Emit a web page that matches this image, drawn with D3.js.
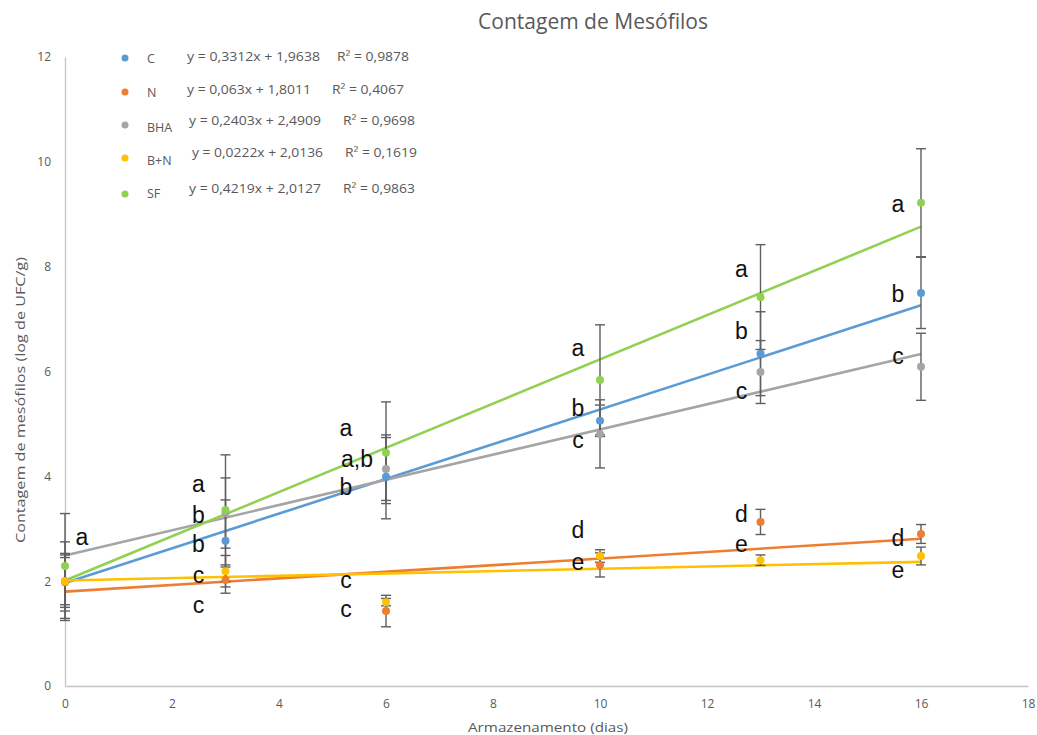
<!DOCTYPE html>
<html><head><meta charset="utf-8">
<script src="https://cdn.jsdelivr.net/npm/d3@7"></script>
<style>body{margin:0;background:#fff;}svg{display:block;}</style>
</head><body><svg id="c" width="1037" height="735"></svg>
<script>
const days = [0, 3, 6, 10, 13, 16];
const seriesNames = ["C", "N", "BHA", "B+N", "SF"];
const colors = ["#5B9BD5", "#ED7D31", "#A5A5A5", "#FFC000", "#92D050"];
const valC   = [2.00, 2.77, 3.99, 5.06, 6.34, 7.50];
const valN   = [1.98, 2.02, 1.43, 2.31, 3.13, 2.90];
const valBHA = [2.00, 3.30, 4.14, 4.81, 5.99, 6.09];
const valBN  = [2.00, 2.19, 1.60, 2.48, 2.40, 2.48];
const valSF  = [2.29, 3.36, 4.45, 5.84, 7.42, 9.22];
const errC   = [0.75, 0.78, 0.80, 0.30, 0.80, 0.68];
const errN   = [0.55, 0.25, 0.30, 0.23, 0.24, 0.18];
const errBHA = [0.50, 0.67, 0.60, 0.65, 0.60, 0.64];
const errBN  = [0.45, 0.30, 0.07, 0.12, 0.10, 0.17];
const errSF  = [1.00, 1.05, 0.97, 1.05, 1.00, 1.03];
const slopes = [0.3312, 0.063, 0.2403, 0.0222, 0.4219];
const intercepts = [1.9638, 1.8011, 2.4909, 2.0136, 2.0127];
const equations = ["y = 0,3312x + 1,9638", "y = 0,063x + 1,8011", "y = 0,2403x + 2,4909", "y = 0,0222x + 2,0136", "y = 0,4219x + 2,0127"];
const r2Labels = ["R² = 0,9878", "R² = 0,4067", "R² = 0,9698", "R² = 0,1619", "R² = 0,9863"];
const xTicks = [0, 2, 4, 6, 8, 10, 12, 14, 16, 18];
const yTicks = [0, 2, 4, 6, 8, 10, 12];
// significance letters: [day, y value, text]
const letters = [
  [0, 2.82, "a"],
  [3, 3.83, "a"], [3, 3.24, "b"], [3, 2.67, "b"], [3, 2.08, "c"], [3, 1.51, "c"],
  [6, 4.90, "a"], [6, 4.31, "a,b"], [6, 3.76, "b"], [6, 2.00, "c"], [6, 1.43, "c"],
  [10, 6.41, "a"], [10, 5.27, "b"], [10, 4.67, "c"], [10, 2.94, "d"], [10, 2.33, "e"],
  [13, 7.92, "a"], [13, 6.75, "b"], [13, 5.59, "c"], [13, 3.26, "d"], [13, 2.67, "e"],
  [16, 9.16, "a"], [16, 7.44, "b"], [16, 6.26, "c"], [16, 2.79, "d"], [16, 2.19, "e"]
];

const values = [valC, valN, valBHA, valBN, valSF];
const errs = [errC, errN, errBHA, errBN, errSF];

const svg = d3.select("#c");
const x = d3.scaleLinear().domain([0, 18]).range([65, 1028]);
const y = d3.scaleLinear().domain([0, 12]).range([686, 57]);
const txt = "#595959";
const font = "'Open Sans', 'DejaVu Sans', sans-serif";

// axes
const xAxis = svg.append("g").attr("transform", "translate(0,686)")
  .call(d3.axisBottom(x).tickValues(xTicks).tickSize(0).tickPadding(13).tickFormat(d3.format("d")));
const yAxis = svg.append("g").attr("transform", "translate(65,0)")
  .call(d3.axisLeft(y).tickValues(yTicks).tickSize(0).tickPadding(14).tickFormat(d3.format("d")));
[xAxis, yAxis].forEach(g => {
  g.select(".domain").attr("stroke", "#c4c4c4").attr("stroke-width", 1.3);
  g.selectAll("text").attr("fill", txt).attr("font-size", 12).attr("font-family", font);
});

// titles
svg.append("text").attr("x", 593).attr("y", 29).attr("text-anchor", "middle")
  .attr("font-size", 21).attr("font-family", font).attr("fill", txt)
  .attr("textLength", 230).attr("lengthAdjust", "spacingAndGlyphs").text("Contagem de Mesófilos");
svg.append("text").attr("x", 548).attr("y", 732).attr("text-anchor", "middle")
  .attr("font-size", 13.5).attr("font-family", font).attr("fill", txt)
  .attr("textLength", 160).attr("lengthAdjust", "spacingAndGlyphs").text("Armazenamento (dias)");
svg.append("text").attr("transform", "translate(25,400) rotate(-90)").attr("text-anchor", "middle")
  .attr("font-size", 13.5).attr("font-family", font).attr("fill", txt)
  .attr("textLength", 286).attr("lengthAdjust", "spacingAndGlyphs").text("Contagem de mesófilos (log de UFC/g)");

// trend lines
seriesNames.forEach((s, i) => {
  svg.append("line")
    .attr("x1", x(0)).attr("y1", y(intercepts[i]))
    .attr("x2", x(16)).attr("y2", y(intercepts[i] + slopes[i] * 16))
    .attr("stroke", colors[i]).attr("stroke-width", 2.6);
});

// error bars
const eb = svg.append("g").attr("stroke", "#5f5f5f").attr("stroke-width", 1.4);
seriesNames.forEach((s, i) => {
  days.forEach((d, j) => {
    const v = values[i][j], e = errs[i][j];
    eb.append("line").attr("x1", x(d)).attr("x2", x(d)).attr("y1", y(v - e)).attr("y2", y(v + e));
    [v - e, v + e].forEach(t => eb.append("line")
      .attr("x1", x(d) - 5).attr("x2", x(d) + 5).attr("y1", y(t)).attr("y2", y(t)));
  });
});

// points
seriesNames.forEach((s, i) => {
  svg.append("g").selectAll("circle").data(days).join("circle")
    .attr("cx", d => x(d)).attr("cy", (d, j) => y(values[i][j])).attr("r", 4)
    .attr("fill", colors[i]);
});

// letters (horizontal offset in px from the day position)
const letterOffset = {0: 17, 3: -27, 6: -40, 10: -22, 13: -19, 16: -23};
svg.append("g").selectAll("text").data(letters).join("text")
  .attr("x", d => x(d[0]) + letterOffset[d[0]] + (d[2] === "a,b" ? 11 : 0))
  .attr("y", d => y(d[1]))
  .attr("dy", "0.28em")
  .attr("text-anchor", "middle")
  .attr("font-size", 23).attr("font-family", "'Liberation Sans', Arial, sans-serif")
  .attr("fill", "#111").text(d => d[2]);

// legend
const legDotY = [58, 92, 125, 158, 194];
const legEqY = [57, 90, 121, 153, 189];
const legLabY = [59, 93, 128, 161, 194];
const legEqX = [187, 187, 189, 192, 189];
const legEqW = [133, 124, 132, 131, 132];
const legRX = [337, 332, 343, 345, 343];
seriesNames.forEach((s, i) => {
  const g = svg.append("g");
  g.append("circle").attr("cx", 125).attr("cy", legDotY[i]).attr("r", 3.5).attr("fill", colors[i]);
  g.append("text").attr("x", 147).attr("y", legLabY[i]).attr("dy", "0.35em").attr("font-size", 12.5)
    .attr("font-family", font).attr("fill", txt).text(s);
  g.append("text").attr("x", legEqX[i]).attr("y", legEqY[i]).attr("dy", "0.35em").attr("font-size", 12.5)
    .attr("font-family", font).attr("fill", txt)
    .attr("textLength", legEqW[i]).attr("lengthAdjust", "spacingAndGlyphs").text(equations[i]);
  g.append("text").attr("x", legRX[i]).attr("y", legEqY[i]).attr("dy", "0.35em").attr("font-size", 12.5)
    .attr("font-family", font).attr("fill", txt)
    .attr("textLength", 72).attr("lengthAdjust", "spacingAndGlyphs").text(r2Labels[i]);
});
</script></body></html>
